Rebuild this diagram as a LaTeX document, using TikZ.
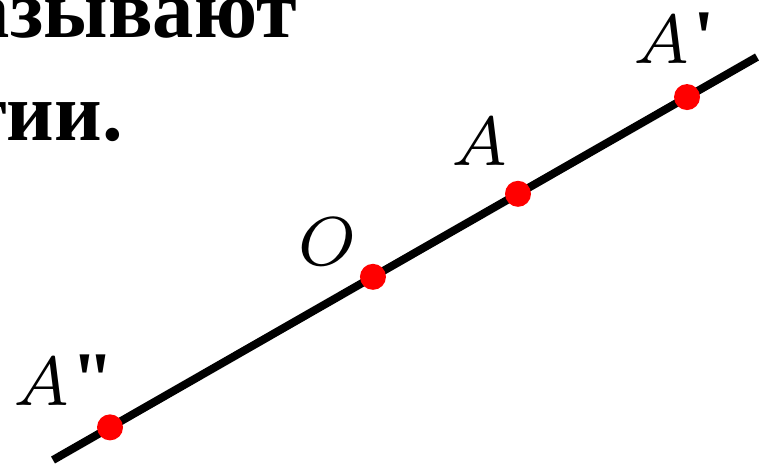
\documentclass[tikz,border=0pt]{standalone}
\usepackage{fontspec}
\newfontfamily\ruf{Liberation Serif}
\newfontfamily\qf{Liberation Serif}
\newfontfamily\lmseven{lmroman7-italic.otf}
\begin{document}
\begin{tikzpicture}[x=0.75pt,y=-0.75pt,
  dot/.style={circle,fill=red,draw=none,minimum size=19.5pt,inner sep=0pt},
  ttl/.style={inner sep=0pt,font=\ruf\bfseries\fontsize{62}{74}\selectfont},
  lbl/.style={inner sep=0pt,font=\lmseven\fontsize{52}{60}\selectfont},
  mk/.style={inner sep=0pt,font=\qf\bfseries\fontsize{58}{60}\selectfont}]
\useasboundingbox (0,0) rectangle (767,464);
\node[ttl,anchor=base east] (t1) at (297,37) {азывают};
\node[ttl,anchor=base east] (t2) at (123,140) {тии.};
\coordinate (P1) at (53,460);
\coordinate (P2) at (757,57);
\draw[line width=6pt] (P1) -- (P2)
  node[dot,pos=0.081] (d2) {}
  node[dot,pos=0.4545] (dO) {}
  node[dot,pos=0.6605] (dA) {}
  node[dot,pos=0.9006] (d1) {};
\node[lbl,anchor=base] (lA2) at (42,405) {A};
\node[mk,anchor=base west] (m2) at (71,405) {\symbol{"22}};
\node[lbl,anchor=base] (lO) at (322,265) {O};
\node[lbl,anchor=base] (lA) at (480,165) {A};
\node[lbl,anchor=base] (lA1) at (662,63) {A};
\node[mk,anchor=base west] (m1) at (693,63) {\symbol{"27}};
\end{tikzpicture}
\end{document}
